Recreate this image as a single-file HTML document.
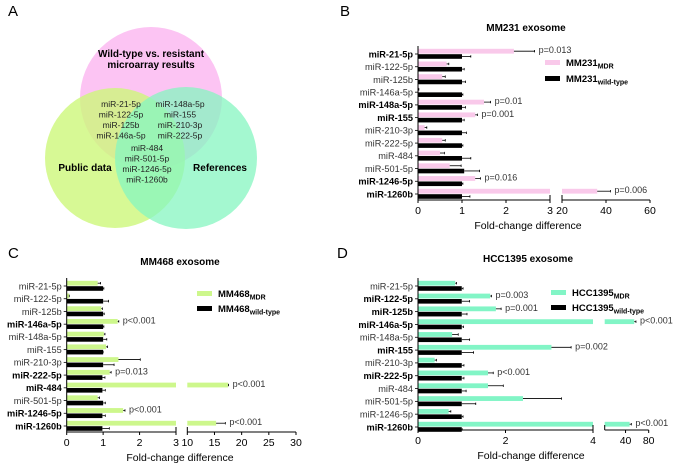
<!DOCTYPE html>
<html><head><meta charset="utf-8">
<style>
body{margin:0;background:#fff;}
svg{display:block;font-family:"Liberation Sans",Arial,sans-serif;}
</style></head>
<body>
<svg id="fig" width="677" height="469" viewBox="0 0 677 469">
  <g>
    <text x="8" y="16" font-size="15">A</text>
    <circle cx="151" cy="98" r="71" fill="#fcc4f3"/>
    <circle cx="115" cy="158" r="70" fill="#cdf77a" fill-opacity="0.8"/>
    <circle cx="186" cy="158" r="71" fill="#86f5c0" fill-opacity="0.75"/>
    <text x="151" y="57" font-size="10" font-weight="bold" text-anchor="middle">Wild-type vs. resistant</text>
    <text x="151" y="68" font-size="10" font-weight="bold" text-anchor="middle">microarray results</text>
    <text x="85" y="171" font-size="10" font-weight="bold" text-anchor="middle">Public data</text>
    <text x="220" y="171" font-size="10" font-weight="bold" text-anchor="middle">References</text>
    <g font-size="8.5" text-anchor="middle" fill="#222">
      <text x="121" y="107">miR-21-5p</text><text x="121" y="117.5">miR-122-5p</text><text x="121" y="128">miR-125b</text><text x="121" y="138.5">miR-146a-5p</text>
    </g>
    <g font-size="8.5" text-anchor="middle" fill="#222">
      <text x="180" y="107">miR-148a-5p</text><text x="180" y="117.5">miR-155</text><text x="180" y="128">miR-210-3p</text><text x="180" y="138.5">miR-222-5p</text>
    </g>
    <g font-size="8.5" text-anchor="middle" fill="#222">
      <text x="147" y="151">miR-484</text><text x="147" y="161.5">miR-501-5p</text><text x="147" y="172">miR-1246-5p</text><text x="147" y="182.5">miR-1260b</text>
    </g>
  </g>
  <text x="340" y="16" font-size="15">B</text>
  <text x="8" y="258" font-size="15">C</text>
  <text x="337" y="258" font-size="15">D</text>
</svg>
<script>
const categories = ["miR-21-5p","miR-122-5p","miR-125b","miR-146a-5p","miR-148a-5p","miR-155","miR-210-3p","miR-222-5p","miR-484","miR-501-5p","miR-1246-5p","miR-1260b"];

const bMdr = [2.18,0.65,0.55,0.02,1.5,1.3,0.15,0.55,0.5,0.72,1.3,36];
const bMdrErr = [2.65,0.7,0.62,0.02,1.65,1.35,0.2,0.62,0.6,0.98,1.42,42];
const bWt = [1,1,1,1,1,1,1,1,1,1.05,1,1];
const bWtErr = [1.2,1.05,1.08,1.02,1.08,1.05,1.1,1.02,1.2,1.4,1.02,1.18];
const bBold = [1,0,0,0,1,1,0,0,0,0,1,1];
const bP = ["p=0.013","","","","p=0.01","p=0.001","","","","","p=0.016","p=0.006"];
const bTicksLow = [0,1,2,3];
const bTicksHigh = [20,40,60];

const cMdr = [0.85,0.07,0.95,1.4,1.02,1.08,1.42,1.18,17.5,0.85,1.55,15.3];
const cMdrErr = [0.93,0.07,0.98,1.43,1.05,1.12,2.02,1.22,17.6,0.9,1.6,17];
const cWt = [1,1,1,1,1,1,1,0.98,0.98,1,0.98,0.98];
const cWtErr = [1.02,1.15,1.03,1.02,1.1,1,1.3,1.05,1.06,1.06,1.06,1.17];
const cBold = [0,0,0,1,0,0,0,1,1,0,1,1];
const cP = ["","","","p<0.001","","","","p=0.013","p<0.001","","p<0.001","p<0.001"];
const cTicksLow = [0,1,2,3];
const cTicksHigh = [10,15,20,25,30];

const dMdr = [0.85,1.65,1.78,55,0.78,3.05,0.38,1.6,1.6,2.4,0.7,47];
const dMdrErr = [0.88,1.68,1.9,58,0.92,3.5,0.42,1.72,1.95,3.28,0.75,50];
const dWt = [1,1,1,1,1,1,1,1,1,1,1,1];
const dWtErr = [1.03,1.18,1.12,1.04,1.18,1.27,1.05,1.05,1.1,1.32,1.03,1.01];
const dBold = [0,1,1,1,0,1,0,1,0,0,0,1];
const dP = ["","p=0.003","p=0.001","p<0.001","","p=0.002","","p<0.001","","","","p<0.001"];
const dTicksLow = [0,2,4];
const dTicksHigh = [40,80];

const NS = "http://www.w3.org/2000/svg";
const svg = document.getElementById("fig");
function mk(tag, attrs, parent){
  const e = document.createElementNS(NS, tag);
  for (const k in attrs) e.setAttribute(k, attrs[k]);
  (parent||svg).appendChild(e);
  return e;
}

function panel(cfg){
  const g = mk("g", {});
  
  
  const lowMax = cfg.lowMax;
  function xs(v){
    if (v <= lowMax) return cfg.x0 + (cfg.lowEnd - cfg.x0) * v / lowMax;
    return cfg.hiStart + (cfg.hiEnd - cfg.hiStart) * (v - cfg.hiMin) / (cfg.hiMax - cfg.hiMin);
  }
  function ys(i){ return cfg.yFirst + i * (cfg.yLast - cfg.yFirst) / (categories.length - 1); }
  const t = mk("text", {x: cfg.titleX, y: cfg.titleY, "font-size": 10, "font-weight": "bold", "text-anchor": "middle"}, g);
  t.textContent = cfg.title;
  
  
  categories.forEach((c, i) => {
    const yc = ys(i);
    const m = cfg.mdr[i], w = cfg.wt[i];
    function bar(val, y0, h, color, name){
      if (val > lowMax) {
        const r1 = mk("rect", {x: cfg.x0, y: y0, width: cfg.lowEnd - cfg.x0, height: h, fill: color}, g);
        
        
        const r2 = mk("rect", {x: cfg.hiStart, y: y0, width: Math.max(0, xs(val) - cfg.hiStart), height: h, fill: color}, g);
        
        
      } else {
        const r = mk("rect", {x: cfg.x0, y: y0, width: Math.max(0.5, xs(val) - cfg.x0), height: h, fill: color}, g);
        
        
      }
    }
    bar(m, yc - 5.2, 4.8, cfg.color, "bar-mdr-" + c);
    bar(w, yc + 0.2, 4.6, "#000", "bar-wildtype-" + c);
    const e1 = mk("line", {x1: xs(m), x2: xs(cfg.mdrErr[i]), y1: yc - 2.8, y2: yc - 2.8, stroke: "#000", "stroke-width": 0.8}, g);
    
    
    mk("line", {x1: xs(cfg.mdrErr[i]), x2: xs(cfg.mdrErr[i]), y1: yc - 4, y2: yc - 1.6, stroke: "#000", "stroke-width": 0.8}, g);
    const e2 = mk("line", {x1: xs(w), x2: xs(cfg.wtErr[i]), y1: yc + 2.4, y2: yc + 2.4, stroke: "#000", "stroke-width": 0.8}, g);
    
    
    mk("line", {x1: xs(cfg.wtErr[i]), x2: xs(cfg.wtErr[i]), y1: yc + 1.2, y2: yc + 3.6, stroke: "#000", "stroke-width": 0.8}, g);
    const lb = mk("text", {x: cfg.x0 - 5, y: yc + 3.3, "font-size": 9.2, "text-anchor": "end", "font-weight": cfg.bold[i] ? "bold" : "normal", fill: cfg.bold[i] ? "#000" : "#333"}, g);
    lb.textContent = c;
    
    
    mk("line", {x1: cfg.x0 - 3, x2: cfg.x0, y1: yc, y2: yc, stroke: "#000", "stroke-width": 0.8}, g);
    if (cfg.p[i]) {
      const pt = mk("text", {x: Math.max(xs(m), xs(cfg.mdrErr[i])) + 4, y: yc - 0.8, "font-size": 9, fill: "#333"}, g);
      pt.textContent = cfg.p[i];
      
      
    }
  });
  const ya = mk("line", {x1: cfg.x0, x2: cfg.x0, y1: ys(0) - 8, y2: cfg.axisY, stroke: "#000", "stroke-width": 1}, g);
  
  
  const xa1 = mk("line", {x1: cfg.x0, x2: cfg.lowEnd, y1: cfg.axisY, y2: cfg.axisY, stroke: "#000", "stroke-width": 1}, g);
  
  
  const xa2 = mk("line", {x1: cfg.hiStart, x2: cfg.hiEnd, y1: cfg.axisY, y2: cfg.axisY, stroke: "#000", "stroke-width": 1}, g);
  
  
  mk("line", {x1: cfg.hiStart, x2: cfg.hiStart, y1: cfg.axisY - 5, y2: cfg.axisY, stroke: "#000", "stroke-width": 1}, g);
  mk("line", {x1: cfg.lowEnd, x2: cfg.lowEnd, y1: cfg.axisY - 5, y2: cfg.axisY + 3, stroke: "#000", "stroke-width": 1}, g);
  cfg.ticksLow.concat(cfg.ticksHigh).forEach(v => {
    const x = xs(v);
    mk("line", {x1: x, x2: x, y1: cfg.axisY, y2: cfg.axisY + 3, stroke: "#000", "stroke-width": 1}, g);
    const tl = mk("text", {x: x, y: cfg.axisY + 14, "font-size": 10.5, "text-anchor": "middle"}, g);
    tl.textContent = v;
    
    
  });
  const xt = mk("text", {x: cfg.xTitleX, y: cfg.axisY + 29, "font-size": 10.5, "text-anchor": "middle"}, g);
  xt.textContent = "Fold-change difference";
  
  
  const lg = mk("g", {}, g);
  
  
  [[cfg.color, "MDR", cfg.legY1], ["#000", "wild-type", cfg.legY2]].forEach(([col, sub, y]) => {
    mk("rect", {x: cfg.legX, y: y - 3, width: 15, height: 5, fill: col}, lg);
    const lt = mk("text", {x: cfg.legX + 21, y: y + 3, "font-size": 9.5, "font-weight": "bold"}, lg);
    
    
    lt.appendChild(document.createTextNode(cfg.cell));
    const ts = mk("tspan", {"font-size": 7, dy: 2.5}, lt);
    ts.textContent = sub;
  });
}

panel({name: "chart-mm231", title: "MM231 exosome", titleX: 526, titleY: 31, cell: "MM231",
  mdr: bMdr, mdrErr: bMdrErr, wt: bWt, wtErr: bWtErr, bold: bBold, p: bP,
  ticksLow: bTicksLow, ticksHigh: bTicksHigh, color: "#f9c9ea",
  x0: 418, lowEnd: 550, lowMax: 3, hiStart: 562, hiEnd: 650, hiMin: 20, hiMax: 60,
  yFirst: 54, yLast: 194, axisY: 200, xTitleX: 528, legX: 545, legY1: 63, legY2: 79});

panel({name: "chart-mm468", title: "MM468 exosome", titleX: 180, titleY: 265, cell: "MM468",
  mdr: cMdr, mdrErr: cMdrErr, wt: cWt, wtErr: cWtErr, bold: cBold, p: cP,
  ticksLow: cTicksLow, ticksHigh: cTicksHigh, color: "#cdf78c",
  x0: 66.7, lowEnd: 176, lowMax: 3, hiStart: 187.3, hiEnd: 296, hiMin: 10, hiMax: 30,
  yFirst: 286, yLast: 426, axisY: 432, xTitleX: 180, legX: 197, legY1: 294, legY2: 309});

panel({name: "chart-hcc1395", title: "HCC1395 exosome", titleX: 528, titleY: 262, cell: "HCC1395",
  mdr: dMdr, mdrErr: dMdrErr, wt: dWt, wtErr: dWtErr, bold: dBold, p: dP,
  ticksLow: dTicksLow, ticksHigh: dTicksHigh, color: "#82f5c6",
  x0: 418, lowEnd: 593, lowMax: 4, hiStart: 604.7, hiEnd: 648.7, hiMin: 4, hiMax: 80,
  yFirst: 286, yLast: 427, axisY: 430, xTitleX: 531, legX: 551, legY1: 293, legY2: 308});
</script>
</body></html>
